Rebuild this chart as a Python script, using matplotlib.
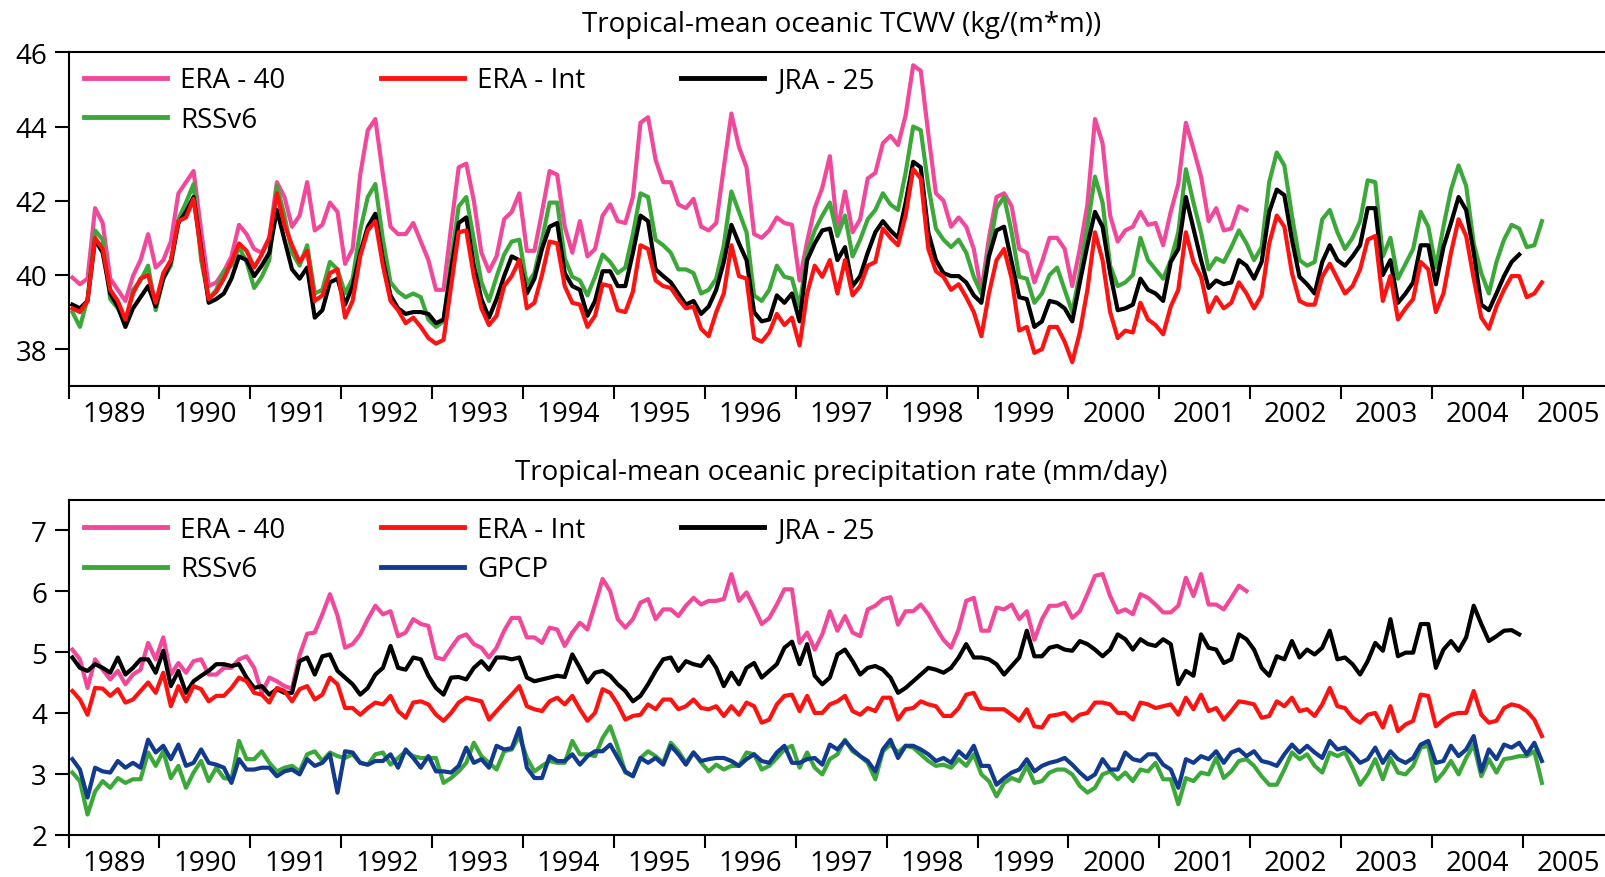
import numpy as np
import matplotlib
matplotlib.use("Agg")
import matplotlib.pyplot as plt

plt.rcParams['font.family'] = ['Open Sans', 'DejaVu Sans']

# monthly series, first value = Jan 1989
years = list(range(1989, 2006))
year_labels = [str(y) for y in years]

tcwv_era40 = [
    39.93, 39.75, 39.9, 41.8, 41.4, 39.9, 39.6, 39.3, 39.97, 40.4, 41.1, 40.2,
    40.4, 40.9, 42.2, 42.5, 42.8, 41.2, 39.7, 39.8, 40.1, 40.5, 41.35, 41.1,
    40.7, 40.6, 41.0, 42.5, 42.1, 41.3, 41.6, 42.5, 41.2, 41.35, 41.95, 41.7,
    40.3, 40.7, 42.7, 43.9, 44.2, 42.7, 41.3, 41.1, 41.1, 41.4, 40.9, 40.4,
    39.6, 39.6, 41.3, 42.9, 43.0, 42.0, 40.6, 40.1, 40.5, 41.5, 41.7, 42.2,
    40.65, 40.65, 41.7, 42.8, 42.7, 41.3, 40.6, 41.45, 40.5, 40.7, 41.6, 41.9,
    41.45, 41.4, 42.1, 44.1, 44.25, 43.1, 42.5, 42.5, 41.9, 41.8, 42.05, 41.3,
    41.2, 41.4, 42.9, 44.35, 43.45, 42.9, 41.1, 41.0, 41.2, 41.55, 41.4, 41.35,
    39.85, 40.9, 41.8, 42.35, 43.2, 41.2, 42.25, 41.15, 41.5, 42.6, 42.75, 43.55,
    43.75, 43.5, 44.3, 45.65, 45.5, 43.8, 42.2, 42.0, 41.3, 41.55, 41.3, 40.7,
    39.55, 41.0, 42.1, 42.2, 41.85, 40.7, 40.6, 39.8, 40.35, 41.0, 41.0, 40.7,
    39.7, 40.7, 41.9, 44.2, 43.55, 41.6, 40.9, 41.2, 41.3, 41.7, 41.35, 41.4,
    40.8, 41.7, 42.45, 44.1, 43.4, 42.65, 41.45, 41.8, 41.2, 41.25, 41.85, 41.75,
]
tcwv_rss = [
    39.0, 38.6, 39.35, 41.2, 40.95, 39.35, 39.1, 38.7, 39.6, 39.85, 40.25, 39.05,
    39.9, 40.25, 41.5, 41.95, 42.45, 40.4, 39.35, 39.6, 40.1, 40.25, 40.75, 40.35,
    39.65, 39.95, 40.4, 42.4, 41.6, 40.6, 40.25, 40.8, 39.5, 39.6, 40.35, 40.15,
    39.5, 39.9, 41.2, 42.1, 42.45, 40.95, 39.8, 39.55, 39.4, 39.5, 39.4, 38.8,
    38.6, 38.75, 40.4, 41.85, 42.1, 40.95, 39.8, 39.3, 39.95, 40.55, 40.9, 40.95,
    39.75, 40.05, 40.95, 41.95, 41.95, 40.45, 39.95, 39.85, 39.45, 39.95, 40.55, 40.35,
    40.05, 40.2, 41.1, 42.2, 42.1, 40.95, 40.8, 40.6, 40.15, 40.15, 40.05, 39.5,
    39.6, 39.9, 40.8, 42.25, 41.7, 41.15, 39.45, 39.3, 39.6, 40.25, 39.95, 39.9,
    39.15, 40.6, 41.2, 41.6, 41.95, 41.05, 41.6, 40.5, 40.95, 41.5, 41.75, 42.2,
    41.9, 41.75, 42.75, 44.0, 43.9, 42.4, 41.25, 40.95, 40.75, 40.95, 40.6, 39.95,
    39.5, 40.6, 41.8, 42.1, 41.15, 39.95, 39.9, 39.25, 39.5, 40.0, 40.2, 39.6,
    39.0, 40.05, 41.3, 42.65, 41.95, 40.25, 39.7, 39.8, 40.0, 41.0, 40.4, 40.15,
    39.9, 40.4, 41.15, 42.85, 41.95, 41.15, 40.15, 40.45, 40.35, 40.75, 41.2, 40.85,
    40.4, 40.75, 42.5, 43.3, 42.95, 41.6, 40.4, 40.25, 40.35, 41.5, 41.75, 41.15,
    40.7, 41.0, 41.45, 42.55, 42.5, 40.5, 41.0, 39.9, 40.3, 40.7, 41.7, 41.3,
    40.2, 41.3, 42.3, 42.95, 42.4, 40.85, 40.05, 39.5, 40.35, 40.95, 41.35, 41.25,
    40.75, 40.8, 41.45,
]
tcwv_jra25 = [
    39.2, 39.1, 39.3, 40.95, 40.6, 39.5, 39.15, 38.6, 39.1, 39.4, 39.7, 39.15,
    39.9, 40.35, 41.4, 41.7, 42.1, 40.7, 39.25, 39.35, 39.5, 39.9, 40.5, 40.4,
    39.97, 40.25, 40.6, 41.75, 40.95, 40.15, 39.9, 40.2, 38.85, 39.05, 39.8, 39.9,
    39.2, 39.7, 40.6, 41.3, 41.65, 40.4, 39.45, 39.1, 38.95, 39.0, 39.0, 38.95,
    38.7, 38.8, 40.15, 41.4, 41.55, 40.25, 39.35, 38.85, 39.35, 39.97, 40.5, 40.4,
    39.5, 39.9, 40.7, 41.3, 41.4, 40.05, 39.7, 39.6, 38.9, 39.3, 40.1, 40.1,
    39.7, 39.7, 40.6, 41.6, 41.45, 40.15, 39.97, 39.8, 39.5, 39.2, 39.3, 38.95,
    39.15, 39.6, 40.35, 41.35, 40.85, 40.4, 39.0, 38.75, 38.8, 39.45, 39.25, 39.5,
    38.75, 40.4, 40.85, 41.2, 41.25, 40.4, 40.75, 39.7, 39.97, 40.6, 41.15, 41.45,
    41.2, 41.0, 41.95, 43.05, 42.9, 41.15, 40.4, 40.05, 39.97, 39.97, 39.8, 39.45,
    39.25, 40.5, 41.2, 41.3, 40.35, 39.4, 39.35, 38.6, 38.75, 39.3, 39.25, 39.1,
    38.75, 39.8, 40.8, 41.7, 41.3, 40.05, 39.05, 39.1, 39.2, 39.9, 39.6, 39.5,
    39.3, 40.35, 40.7, 42.1, 41.25, 40.4, 39.65, 39.85, 39.75, 39.8, 40.4, 40.25,
    39.9, 40.35, 41.7, 42.3, 42.15, 40.95, 39.95, 39.75, 39.5, 40.35, 40.8, 40.4,
    40.25, 40.5, 40.8, 41.8, 41.8, 40.0, 40.4, 39.25, 39.5, 39.8, 40.8, 40.8,
    39.75, 40.75, 41.4, 42.1, 41.75, 40.6, 39.2, 39.05, 39.5, 39.97, 40.35, 40.55,
]
tcwv_eraint = [
    39.1, 39.0, 39.3, 41.0, 40.7, 39.6, 39.3, 38.8, 39.5, 39.9, 40.0, 39.25,
    40.05, 40.4, 41.45, 41.55, 42.05, 40.6, 39.35, 39.55, 39.9, 40.35, 40.85, 40.65,
    40.2, 40.55, 41.0, 42.2, 41.35, 40.8, 40.35, 40.65, 39.3, 39.45, 40.05, 40.15,
    38.85, 39.3, 40.5, 41.2, 41.45, 40.25, 39.3, 39.05, 38.7, 38.85, 38.6, 38.3,
    38.15, 38.25, 39.7, 41.15, 41.2, 39.97, 39.1, 38.65, 38.9, 39.7, 39.97, 40.4,
    39.1, 39.25, 40.0, 40.9, 40.85, 39.7, 39.25, 39.2, 38.6, 38.9, 39.75, 39.7,
    39.05, 39.0, 39.55, 40.8, 40.7, 39.85, 39.7, 39.65, 39.35, 39.1, 39.15, 38.55,
    38.35, 39.0, 39.5, 40.8, 39.97, 39.9, 38.3, 38.2, 38.45, 38.95, 38.65, 38.85,
    38.1, 39.5, 40.25, 39.95, 40.4, 39.5, 40.4, 39.45, 39.7, 40.25, 40.35, 41.25,
    41.0, 40.8, 41.6, 42.85, 42.6, 40.7, 40.1, 39.95, 39.6, 39.75, 39.4, 39.0,
    38.35, 39.5, 40.4, 40.7, 39.9, 38.5, 38.6, 37.9, 38.0, 38.6, 38.6, 38.2,
    37.65, 38.45, 39.6, 41.15, 40.4, 39.0, 38.3, 38.5, 38.45, 39.25, 38.8, 38.65,
    38.4, 39.15, 39.6, 41.15, 40.35, 39.95, 39.0, 39.4, 39.1, 39.25, 39.8, 39.5,
    39.1, 39.45, 40.85, 41.6, 41.3, 40.05, 39.3, 39.2, 39.2, 39.95, 40.3, 39.9,
    39.5, 39.7, 40.15, 40.95, 41.05, 39.3, 39.97, 38.8, 39.1, 39.35, 40.35, 40.15,
    39.0, 39.5, 40.6, 41.5, 41.05, 39.9, 38.85, 38.55, 39.15, 39.6, 39.97, 39.97,
    39.4, 39.5, 39.8,
]

pr_era40 = [
    5.04, 4.88, 4.41, 4.88, 4.71, 4.55, 4.69, 4.47, 4.63, 4.71, 5.15, 4.88,
    5.24, 4.63, 4.82, 4.66, 4.85, 4.88, 4.63, 4.63, 4.74, 4.74, 4.88, 4.93,
    4.74, 4.33, 4.58, 4.52, 4.44, 4.4, 4.95, 5.3, 5.32, 5.62, 5.95, 5.6,
    5.07, 5.13, 5.29, 5.54, 5.76, 5.62, 5.67, 5.26, 5.32, 5.54, 5.46, 5.43,
    4.91, 4.88, 5.07, 5.24, 5.29, 5.13, 5.07, 4.91, 5.07, 5.35, 5.56, 5.56,
    5.24, 5.24, 5.15, 5.4, 5.37, 5.1, 5.32, 5.48, 5.37, 5.78, 6.2, 6.0,
    5.54, 5.4, 5.54, 5.81, 5.87, 5.54, 5.7, 5.7, 5.59, 5.76, 5.89, 5.78,
    5.84, 5.84, 5.87, 6.28, 5.84, 5.98, 5.73, 5.46, 5.56, 5.78, 6.03, 6.03,
    5.15, 5.32, 5.04, 5.29, 5.67, 5.35, 5.59, 5.32, 5.26, 5.7, 5.76, 5.87,
    5.9, 5.45, 5.67, 5.67, 5.78, 5.62, 5.4, 5.2, 5.07, 5.37, 5.84, 5.89,
    5.35, 5.35, 5.73, 5.7, 5.78, 5.54, 5.67, 5.2, 5.54, 5.76, 5.76, 5.81,
    5.56, 5.67, 5.95, 6.25, 6.28, 5.92, 5.65, 5.7, 5.62, 5.95, 5.89, 5.78,
    5.65, 5.65, 5.76, 6.22, 5.92, 6.28, 5.78, 5.78, 5.7, 5.89, 6.09, 6.0,
]
pr_jra25 = [
    4.91, 4.74, 4.69, 4.8, 4.74, 4.66, 4.91, 4.63, 4.74, 4.88, 4.88, 4.66,
    5.02, 4.44, 4.69, 4.33, 4.52, 4.61, 4.69, 4.8, 4.8, 4.77, 4.8, 4.58,
    4.41, 4.44, 4.3, 4.39, 4.33, 4.33, 4.85, 4.91, 4.63, 4.93, 4.96, 4.69,
    4.58, 4.47, 4.3, 4.41, 4.63, 4.74, 5.1, 4.74, 4.71, 4.91, 4.88, 4.61,
    4.41, 4.3, 4.58, 4.59, 4.55, 4.74, 4.85, 4.71, 4.91, 4.91, 4.88, 4.91,
    4.58, 4.52, 4.55, 4.58, 4.61, 4.59, 4.96, 4.74, 4.5, 4.66, 4.69, 4.61,
    4.47, 4.36, 4.19, 4.28, 4.47, 4.69, 4.88, 4.91, 4.69, 4.85, 4.8, 4.77,
    4.93, 4.74, 4.44, 4.66, 4.47, 4.74, 4.82, 4.58, 4.69, 4.8, 5.07, 5.17,
    4.8, 5.13, 4.61, 4.47, 4.58, 4.96, 5.04, 4.85, 4.63, 4.74, 4.77, 4.71,
    4.58, 4.33, 4.41, 4.52, 4.63, 4.74, 4.71, 4.66, 4.74, 4.91, 5.13, 4.91,
    4.91, 4.88, 4.8, 4.63, 4.77, 4.91, 5.35, 4.93, 4.93, 5.07, 5.1, 5.04,
    5.02, 5.18, 5.13, 5.04, 4.93, 5.04, 5.29, 5.21, 5.04, 5.21, 5.13, 5.1,
    5.21, 5.13, 4.47, 4.69, 4.61, 5.29, 5.07, 5.04, 4.82, 4.88, 5.29, 5.21,
    5.04, 4.74, 4.61, 4.93, 4.88, 5.18, 4.91, 5.04, 4.96, 5.07, 5.35, 4.88,
    4.91, 4.8, 4.63, 4.85, 5.15, 5.02, 5.54, 4.93, 4.99, 4.99, 5.46, 5.46,
    4.74, 5.04, 5.18, 5.02, 5.24, 5.76, 5.46, 5.18, 5.26, 5.35, 5.36, 5.29,
]
pr_eraint = [
    4.36, 4.22, 3.97, 4.41, 4.4, 4.28, 4.39, 4.17, 4.22, 4.36, 4.5, 4.33,
    4.66, 4.11, 4.44, 4.19, 4.44, 4.39, 4.19, 4.28, 4.28, 4.41, 4.58, 4.52,
    4.33, 4.3, 4.17, 4.41, 4.36, 4.19, 4.39, 4.44, 4.22, 4.3, 4.58, 4.47,
    4.08, 4.08, 3.97, 4.08, 4.17, 4.14, 4.28, 4.03, 3.92, 4.17, 4.19, 4.14,
    3.97, 3.87, 4.0, 4.17, 4.25, 4.22, 4.19, 3.89, 4.03, 4.17, 4.3, 4.44,
    4.11, 4.06, 4.03, 4.19, 4.25, 4.14, 4.28, 4.06, 3.87, 4.0, 4.39, 4.33,
    4.14, 3.89, 3.95, 3.97, 4.14, 4.06, 4.22, 4.22, 4.06, 4.11, 4.22, 4.08,
    4.06, 4.11, 3.95, 4.11, 3.97, 4.17, 4.11, 3.84, 3.89, 4.14, 4.28, 4.3,
    4.03, 4.28, 4.0, 4.0, 4.14, 4.19, 4.28, 4.03, 3.97, 4.08, 4.03, 4.25,
    4.25, 3.89, 4.06, 4.08, 4.19, 4.14, 4.11, 3.95, 3.95, 4.08, 4.3, 4.33,
    4.08, 4.06, 4.06, 4.06, 3.97, 3.87, 4.06, 3.78, 3.76, 3.95, 3.97, 4.0,
    3.87, 3.97, 4.0, 4.17, 4.17, 4.14, 4.0, 4.0, 3.89, 4.17, 4.14, 4.08,
    4.11, 4.14, 3.97, 4.25, 4.06, 4.3, 4.03, 4.08, 3.89, 4.03, 4.19, 4.17,
    4.14, 3.92, 3.95, 4.19, 4.11, 4.25, 4.03, 4.06, 3.95, 4.14, 4.41, 4.11,
    4.08, 3.92, 3.84, 3.97, 4.0, 3.76, 4.11, 3.7, 3.81, 3.87, 4.3, 4.28,
    3.78, 3.89, 3.97, 4.0, 4.0, 4.36, 3.97, 3.84, 3.87, 4.08, 4.14, 4.11,
    4.03, 3.89, 3.62,
]
pr_rss = [
    3.02, 2.88, 2.33, 2.71, 2.88, 2.77, 2.93, 2.85, 2.91, 2.91, 3.35, 3.13,
    3.37, 2.93, 3.13, 2.77, 3.02, 3.21, 2.88, 3.1, 2.93, 2.91, 3.54, 3.24,
    3.24, 3.37, 3.18, 3.04, 3.1, 3.13, 3.04, 3.32, 3.37, 3.21, 3.35, 3.29,
    3.26, 3.32, 3.18, 3.15, 3.32, 3.35, 3.15, 3.26, 3.37, 3.29, 3.26, 3.26,
    3.26, 2.85, 2.93, 3.04, 3.18, 3.51, 3.29, 3.18, 3.07, 3.37, 3.4, 3.62,
    3.26, 3.04, 3.13, 3.21, 3.18, 3.18, 3.54, 3.32, 3.32, 3.29, 3.59, 3.78,
    3.43, 3.02, 2.96, 3.26, 3.37, 3.29, 3.18, 3.51, 3.37, 3.18, 3.35, 3.18,
    3.04, 3.15, 3.07, 3.13, 3.13, 3.35, 3.32, 3.07, 3.13, 3.26, 3.4, 3.46,
    3.1, 3.35, 3.1, 2.99, 3.24, 3.32, 3.56, 3.37, 3.29, 3.18, 2.91, 3.37,
    3.48, 3.35, 3.46, 3.43, 3.32, 3.21, 3.13, 3.15, 3.1, 3.24, 3.13, 3.32,
    2.99, 2.88, 2.63, 2.85, 2.93, 2.88, 3.13, 2.85, 2.88, 3.02, 3.07, 3.07,
    2.99, 2.8, 2.69, 2.77, 2.99, 3.04, 2.91, 3.02, 2.88, 3.07, 3.04, 3.18,
    2.91, 2.91, 2.5, 2.93, 2.88, 3.02, 2.99, 3.26, 2.93, 3.04, 3.21, 3.24,
    3.13, 2.96, 2.82, 2.82, 3.07, 3.35, 3.24, 3.32, 3.13, 3.02, 3.35, 3.29,
    3.35, 3.1, 2.82, 2.99, 3.24, 2.91, 3.26, 3.02, 2.99, 3.13, 3.43, 3.46,
    2.88, 3.02, 3.21, 2.99, 3.26, 3.48, 2.96, 3.24, 3.02, 3.24, 3.26, 3.29,
    3.29, 3.37, 2.85,
]
pr_gpcp = [
    3.24, 3.07, 2.61, 3.1, 3.04, 3.02, 3.21, 3.1, 3.18, 3.1, 3.56, 3.35,
    3.46, 3.24, 3.48, 3.13, 3.18, 3.4, 3.18, 3.15, 3.1, 2.85, 3.24, 3.07,
    3.07, 3.1, 3.1, 2.96, 3.04, 3.07, 2.99, 3.24, 3.13, 3.18, 3.32, 2.69,
    3.37, 3.35, 3.18, 3.15, 3.21, 3.21, 3.32, 3.1, 3.4, 3.26, 3.1, 3.29,
    3.04, 3.04, 3.02, 3.13, 3.43, 3.18, 3.24, 3.1, 3.46, 3.4, 3.42, 3.75,
    3.1, 2.93, 2.93, 3.29, 3.21, 3.21, 3.32, 3.15, 3.29, 3.37, 3.37, 3.48,
    3.26, 3.04, 2.96, 3.26, 3.18, 3.26, 3.15, 3.46, 3.32, 3.15, 3.35, 3.21,
    3.24, 3.26, 3.26, 3.21, 3.13, 3.24, 3.32, 3.21, 3.18, 3.35, 3.46, 3.18,
    3.18, 3.24, 3.26, 3.15, 3.48, 3.4, 3.54, 3.4, 3.29, 3.21, 3.04, 3.4,
    3.56, 3.26, 3.46, 3.46, 3.4, 3.32, 3.21, 3.26, 3.18, 3.37, 3.26, 3.46,
    3.13, 3.13, 2.82, 2.93, 3.02, 3.07, 3.24, 3.04, 3.13, 3.18, 3.21, 3.26,
    3.15, 3.02, 2.91, 2.99, 3.24, 3.07, 3.07, 3.35, 3.24, 3.21, 3.32, 3.32,
    3.15, 3.07, 2.77, 3.24, 3.18, 3.29, 3.24, 3.37, 3.18, 3.35, 3.4, 3.29,
    3.37, 3.21, 3.18, 3.13, 3.32, 3.48, 3.35, 3.46, 3.35, 3.26, 3.54, 3.4,
    3.43, 3.32, 3.18, 3.24, 3.43, 3.18, 3.37, 3.24, 3.18, 3.26, 3.48, 3.54,
    3.18, 3.21, 3.46, 3.29, 3.4, 3.62, 3.04, 3.4, 3.24, 3.48, 3.43, 3.51,
    3.32, 3.51, 3.21,
]

c_era40 = '#f2489b'
c_eraint = '#ff1212'
c_jra = '#000000'
c_rss = '#3ca83a'
c_gpcp = '#123a8e'
LW = 3.0
FS = 20


def t(vals):
    # mid-month positions in decimal years
    return 1989 + (np.arange(len(vals)) + 0.5) / 12.0


def style(ax, title, ylim, yticks):
    ax.set_xlim(1989, 2006)
    ax.set_ylim(*ylim)
    ax.set_yticks(yticks)
    ax.set_xticks(years + [2006])
    ax.set_xticklabels([])
    ax.set_xticks([y + 0.5 for y in years], year_labels, minor=True)
    ax.tick_params(axis='x', which='major', length=9.4, width=1.5, direction='out')
    ax.tick_params(axis='x', which='minor', length=0, pad=10, labelsize=FS)
    ax.tick_params(axis='y', length=10, width=1.5, pad=5.5, labelsize=FS)
    ax.spines['right'].set_visible(False)
    for s in ['left', 'top', 'bottom']:
        ax.spines[s].set_linewidth(1.5)
    ax.set_title(title, fontsize=FS, pad=15)


fig = plt.figure(figsize=(16.06, 8.78), dpi=100)
ax1 = fig.add_axes([0.0427, 0.5589, 0.9622, 0.3804])
ax2 = fig.add_axes([0.0427, 0.0482, 0.9622, 0.3814])

# top: water vapour
l40, = ax1.plot(t(tcwv_era40), tcwv_era40, color=c_era40, lw=LW)
lrss, = ax1.plot(t(tcwv_rss), tcwv_rss, color=c_rss, lw=LW)
ljra, = ax1.plot(t(tcwv_jra25), tcwv_jra25, color=c_jra, lw=LW)
lint, = ax1.plot(t(tcwv_eraint), tcwv_eraint, color=c_eraint, lw=LW)
style(ax1, 'Tropical-mean oceanic TCWV (kg/(m*m))', (37, 46), [38, 40, 42, 44, 46])

leg_kw = dict(ncol=3, loc='upper left', frameon=False, fontsize=FS,
              handlelength=3.0, handletextpad=0.45, columnspacing=3.45,
              labelspacing=0.41, borderpad=0, borderaxespad=0)
leg1 = ax1.legend([l40, lrss, lint, ljra], ['ERA - 40', 'RSSv6', 'ERA - Int', 'JRA - 25'],
                  bbox_to_anchor=(0.01, 0.958), **leg_kw)

# bottom: precipitation
p40, = ax2.plot(t(pr_era40), pr_era40, color=c_era40, lw=LW)
prss, = ax2.plot(t(pr_rss), pr_rss, color=c_rss, lw=LW)
pgp, = ax2.plot(t(pr_gpcp), pr_gpcp, color=c_gpcp, lw=LW)
pjra, = ax2.plot(t(pr_jra25), pr_jra25, color=c_jra, lw=LW)
pint, = ax2.plot(t(pr_eraint), pr_eraint, color=c_eraint, lw=LW)
style(ax2, 'Tropical-mean oceanic precipitation rate (mm/day)', (2, 7.5), [2, 3, 4, 5, 6, 7])

leg2 = ax2.legend([p40, prss, pint, pgp, pjra],
                  ['ERA - 40', 'RSSv6', 'ERA - Int', 'GPCP', 'JRA - 25'],
                  bbox_to_anchor=(0.01, 0.952), **leg_kw)

for leg in (leg1, leg2):
    for ln in leg.get_lines():
        ln.set_linewidth(3.5)

fig.savefig('out.png', dpi=100)
